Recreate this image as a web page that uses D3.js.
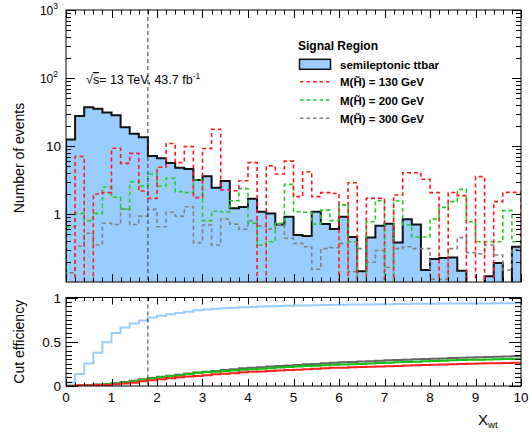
<!DOCTYPE html>
<html lang="en">
<head>
<meta charset="utf-8">
<title>Xwt signal region</title>
<script src="https://d3js.org/d3.v7.min.js"></script>
<style>
  html, body { margin:0; padding:0; background:#fff; }
  svg { display:block; font-family:"Liberation Sans", Arial, Helvetica, sans-serif; }
</style>
</head>
<body>
<svg id="chart" width="532" height="433"></svg>
<script>
// ─── Data (50 bins of 0.2 in X_wt) ───────────────────────────────────────
const nBins = 50, binWidth = 0.2;

const ttbar = [12.5, 27.6, 37, 35.4, 31, 28.3, 18.8, 15.2, 13.5, 7.1,
  6.6, 5.6, 4.8, 4.6, 3.16, 3.6, 2.44, 3.06, 1.22, 1.27,
  1.68, 1.08, 1.02, 0.70, 0.91, 0.49, 0.475, 1.08, 0.71, 0.60,
  0.91, 0.46, 0.144, 0.45, 0.67, 0.72, 0.38, 0.84, 0.70, 0.15,
  0.218, 0.225, 0.23, 0.146, 0, 0, 0.122, 0.19, 0, 0.33];

const m130 = [0, 7.0, 0, 1.97, 2.06, 9.25, 5.56, 7.8, 2.18, 1.7,
  4.86, 10.9, 5.7, 9.8, 1.74, 9.2, 17.6, 2.25, 2.2, 3.09,
  5.7, 0, 5.1, 3.87, 6.0, 1.8, 4.18, 1.8, 2.06, 2.0,
  0, 2.88, 0, 1.7, 1.7, 0, 1.9, 4.05, 4.05, 3.24,
  2.06, 0, 2.06, 1.86, 0, 3.54, 0, 1.52, 2.08, 2.08];

const m200 = [0.65, 1.02, 0.80, 1.02, 2.5, 1.76, 1.18, 2.98, 2.58, 3.87,
  2.58, 3.35, 2.13, 2.06, 3.16, 0.8, 1.1, 1.07, 1.57, 2.36,
  0.73, 0.35, 0.39, 0.73, 2.73, 1.08, 1.06, 0.71, 1.14, 0.8,
  1.36, 0.39, 0, 0.77, 1.57, 0, 1.55, 0.69, 0.46, 0.46,
  0.84, 1.25, 1.52, 2.3, 0.77, 0.39, 0.39, 0.39, 1.12, 0.39];

const m300 = [0.137, 0.338, 0.52, 0.35, 0.73, 0.70, 1.18, 0.70, 0.93, 1.17,
  0.65, 1.06, 0.93, 1.28, 0.38, 0.69, 0.35, 0.84, 0.71, 0.60,
  0.80, 0.67, 0.60, 0.71, 0.44, 0.37, 0.33, 0.154, 0.31, 0.32,
  0.37, 0.142, 0.31, 0.195, 0.29, 0.165, 0.31, 0.33, 0.31, 0.31,
  0.11, 0.11, 0.31, 0.45, 0.27, 0.26, 0.35, 0.25, 0.15, 0.3];

// cut efficiency, read per bin
const effTtbar = [0.04, 0.135, 0.255, 0.375, 0.495, 0.6, 0.66, 0.705, 0.74, 0.775,
  0.795, 0.81, 0.825, 0.84, 0.855, 0.865, 0.872, 0.879, 0.885, 0.89,
  0.894, 0.898, 0.901, 0.904, 0.907, 0.909, 0.911, 0.913, 0.915, 0.917,
  0.919, 0.92, 0.921, 0.922, 0.923, 0.925, 0.926, 0.927, 0.928, 0.929,
  0.93, 0.931, 0.931, 0.932, 0.932, 0.933, 0.933, 0.934, 0.934, 0.935];

const eff130 = [0, 0.008, 0.008, 0.01, 0.012, 0.02, 0.028, 0.038, 0.055, 0.065,
  0.075, 0.088, 0.098, 0.108, 0.112, 0.122, 0.132, 0.138, 0.145, 0.155,
  0.16, 0.165, 0.17, 0.175, 0.18, 0.185, 0.19, 0.195, 0.2, 0.205,
  0.207, 0.211, 0.214, 0.217, 0.22, 0.223, 0.227, 0.231, 0.235, 0.238,
  0.241, 0.243, 0.246, 0.249, 0.251, 0.254, 0.256, 0.258, 0.261, 0.264];

const eff200 = [0.003, 0.007, 0.01, 0.014, 0.022, 0.03, 0.04, 0.052, 0.07, 0.085,
  0.1, 0.11, 0.12, 0.135, 0.15, 0.155, 0.16, 0.168, 0.175, 0.185,
  0.19, 0.195, 0.2, 0.21, 0.215, 0.22, 0.225, 0.23, 0.235, 0.24,
  0.243, 0.247, 0.25, 0.255, 0.26, 0.263, 0.267, 0.27, 0.275, 0.28,
  0.283, 0.286, 0.29, 0.293, 0.296, 0.298, 0.3, 0.302, 0.304, 0.306];

const eff300 = [0.002, 0.006, 0.012, 0.016, 0.024, 0.032, 0.045, 0.058, 0.075, 0.09,
  0.105, 0.115, 0.128, 0.14, 0.152, 0.16, 0.17, 0.18, 0.19, 0.2,
  0.205, 0.212, 0.22, 0.226, 0.233, 0.238, 0.245, 0.25, 0.256, 0.262,
  0.267, 0.272, 0.277, 0.281, 0.286, 0.29, 0.294, 0.298, 0.301, 0.305,
  0.309, 0.312, 0.316, 0.319, 0.322, 0.325, 0.328, 0.33, 0.333, 0.335];

const xTicks = [0, 1, 2, 3, 4, 5, 6, 7, 8, 9, 10];
const yTopTicks = [1, 10, 100, 1000];
const yTopLabels = [["1", ""], ["10", ""], ["10", "2"], ["10", "3"]];
const yBotTicks = [0, 0.5, 1];
const yBotLabels = ["0", "0.5", "1"];
const cutValue = 1.8;
const legendTitle = "Signal Region";
const legendNames = ["semileptonic ttbar", "M(H\u0303) = 130 GeV", "M(H\u0303) = 200 GeV", "M(H\u0303) = 300 GeV"];

// ─── Style ───────────────────────────────────────────────────────────────
const BLUE = "#99ccff", RED = "#ff1a1a", GREEN = "#1fcc1f", GRAY = "#808080";

const svg = d3.select("#chart");
const x = d3.scaleLinear().domain([0, 10]).range([66, 521]);
const yTop = d3.scaleLog().domain([0.1, 1000]).range([282, 10]);
const yBot = d3.scaleLinear().domain([0, 1]).range([386, 297.5]);
const edges = d3.range(nBins + 1).map(i => i * binWidth);

const defs = svg.append("defs");
defs.append("clipPath").attr("id", "clipTop").append("rect")
  .attr("x", x(0)).attr("y", yTop(1000)).attr("width", x(10) - x(0)).attr("height", yTop(0.1) - yTop(1000));
defs.append("clipPath").attr("id", "clipBot").append("rect")
  .attr("x", x(0)).attr("y", yBot(1)).attr("width", x(10) - x(0)).attr("height", yBot(0) - yBot(1));

const line = d3.line();

// step outline of a histogram, zero bins drop to the frame bottom
function stepPoints(vals, ys, floor) {
  const pts = [[x(0), floor]];
  vals.forEach((v, i) => {
    const yy = v > 0 ? ys(v) : floor;
    pts.push([x(edges[i]), yy], [x(edges[i + 1]), yy]);
  });
  pts.push([x(10), floor]);
  return pts;
}
function effPoints(vals) {
  const pts = [];
  vals.forEach((v, i) => pts.push([x(edges[i]), yBot(v)], [x(edges[i + 1]), yBot(v)]));
  return pts;
}

// ─── Top panel ───────────────────────────────────────────────────────────
const floorTop = yTop(0.1) + 1;
const topG = svg.append("g").attr("clip-path", "url(#clipTop)");
topG.append("path").attr("d", line(stepPoints(ttbar, yTop, floorTop)) + "Z")
  .attr("fill", BLUE).attr("stroke", "none");
topG.append("path").attr("d", line(stepPoints(ttbar, yTop, floorTop)))
  .attr("fill", "none").attr("stroke", "#111").attr("stroke-width", 2);
[[m300, GRAY], [m200, GREEN], [m130, RED]].forEach(([vals, col]) => {
  topG.append("path").attr("d", line(stepPoints(vals, yTop, floorTop)))
    .attr("fill", "none").attr("stroke", col).attr("stroke-width", 1.6)
    .attr("stroke-dasharray", "4,3");
});
topG.append("line")
  .attr("x1", x(cutValue)).attr("x2", x(cutValue))
  .attr("y1", yTop(1000)).attr("y2", yTop(0.1))
  .attr("stroke", "#333").attr("stroke-width", 1).attr("stroke-dasharray", "4,3");

// ─── Bottom panel ────────────────────────────────────────────────────────
const botG = svg.append("g").attr("clip-path", "url(#clipBot)");
[[effTtbar, BLUE], [eff300, "#666"], [eff200, "#11c011"], [eff130, "#ff2020"]].forEach(([vals, col]) => {
  botG.append("path").attr("d", line(effPoints(vals)))
    .attr("fill", "none").attr("stroke", col).attr("stroke-width", 2);
});
svg.append("line")
  .attr("x1", x(cutValue)).attr("x2", x(cutValue))
  .attr("y1", yBot(1)).attr("y2", yBot(0))
  .attr("stroke", "#333").attr("stroke-width", 1).attr("stroke-dasharray", "4,3");

// ─── Frames & ticks ──────────────────────────────────────────────────────
function frame(y0, y1) {
  svg.append("rect").attr("x", x(0)).attr("y", y0).attr("width", x(10) - x(0)).attr("height", y1 - y0)
    .attr("fill", "none").attr("stroke", "#000").attr("stroke-width", 1);
}
frame(yTop(1000), yTop(0.1));
frame(yBot(1), yBot(0));

function tick(x1, y1, x2, y2) {
  svg.append("line").attr("x1", x1).attr("y1", y1).attr("x2", x2).attr("y2", y2)
    .attr("stroke", "#000").attr("stroke-width", 1);
}
// x ticks for both panels
edges.forEach((e, i) => {
  const major = i % 5 === 0;
  const xx = Math.round(x(e)) + 0.5;
  tick(xx, yTop(0.1), xx, yTop(0.1) - (major ? 8 : 4.5));
  tick(xx, yTop(1000), xx, yTop(1000) + (major ? 8 : 4.5));
  tick(xx, yBot(0), xx, yBot(0) - (major ? 7 : 3.5));
  tick(xx, yBot(1), xx, yBot(1) + (major ? 7 : 3.5));
});
// log y ticks
const logMinor = [];
[0.1, 1, 10, 100].forEach(d => [2, 3, 4, 5, 6, 7, 8, 9].forEach(m => logMinor.push(d * m)));
logMinor.forEach(v => {
  const yy = Math.round(yTop(v)) + 0.5;
  tick(x(0), yy, x(0) + 5, yy);
  tick(x(10), yy, x(10) - 5, yy);
});
yTopTicks.forEach(v => {
  const yy = Math.round(yTop(v)) + 0.5;
  tick(x(0), yy, x(0) + 9, yy);
  tick(x(10), yy, x(10) - 9, yy);
});
// efficiency y ticks
d3.range(21).forEach(i => {
  const v = i * 0.05;
  const major = i % 10 === 0;
  const yy = Math.round(yBot(v)) + 0.5;
  tick(x(0), yy, x(0) + (major ? 12 : 6), yy);
  tick(x(10), yy, x(10) - (major ? 12 : 6), yy);
});

// ─── Labels ──────────────────────────────────────────────────────────────
yTopTicks.forEach((v, i) => {
  const [base, exp] = yTopLabels[i];
  const t = svg.append("text").attr("text-anchor", "end")
    .attr("x", exp ? 58 : 61).attr("y", yTop(v) + 5)
    .attr("font-size", exp ? 12 : 13.5);
  t.append("tspan").text(base);
  if (exp) t.append("tspan").attr("dy", -6).attr("font-size", 8.5).text(exp);
});
yBotTicks.forEach((v, i) => {
  svg.append("text").attr("text-anchor", "end")
    .attr("x", 61).attr("y", yBot(v) + 5).attr("font-size", 13.5).text(yBotLabels[i]);
});
xTicks.forEach(v => {
  svg.append("text").attr("text-anchor", "middle")
    .attr("x", x(v)).attr("y", 402).attr("font-size", 13.5).text(String(v));
});

const xt = svg.append("text").attr("x", 478).attr("y", 425).attr("font-size", 15);
xt.append("tspan").text("X");
xt.append("tspan").attr("dy", 3).attr("font-size", 9.5).text("wt");

svg.append("text").attr("transform", "translate(24,158) rotate(-90)")
  .attr("text-anchor", "middle").attr("font-size", 14).text("Number of events");
svg.append("text").attr("transform", `translate(24,${(yBot(0) + yBot(1)) / 2}) rotate(-90)`)
  .attr("text-anchor", "middle").attr("font-size", 14).text("Cut efficiency");

// sqrt(s) label
const ecm = svg.append("text").attr("x", 86).attr("y", 84).attr("font-size", 12.5);
ecm.append("tspan").text("\u221A");
ecm.append("tspan").style("text-decoration", "overline").text("s");
ecm.append("tspan").text("= 13 TeV, 43.7 fb");
ecm.append("tspan").attr("dy", -5).attr("font-size", 8.5).text("-1");

// ─── Legend ──────────────────────────────────────────────────────────────
const leg = svg.append("g");
leg.append("text").attr("x", 298).attr("y", 50).attr("font-size", 12)
  .attr("font-weight", "bold").text(legendTitle);
const legY = [64.3, 81.7, 100, 118.3];
const legCols = [null, RED, GREEN, GRAY];
legendNames.forEach((name, i) => {
  if (i === 0) {
    leg.append("rect").attr("x", 299.5).attr("y", legY[i] - 5).attr("width", 31).attr("height", 10)
      .attr("fill", BLUE).attr("stroke", "#111").attr("stroke-width", 1.5);
  } else {
    leg.append("line").attr("x1", 300).attr("x2", 331).attr("y1", legY[i]).attr("y2", legY[i])
      .attr("stroke", legCols[i]).attr("stroke-width", 1.5).attr("stroke-dasharray", "3.5,3");
  }
  leg.append("text").attr("x", 340).attr("y", legY[i] + 4.5).attr("font-size", 11.5)
    .attr("font-weight", "bold").text(name);
});
</script>
</body>
</html>
